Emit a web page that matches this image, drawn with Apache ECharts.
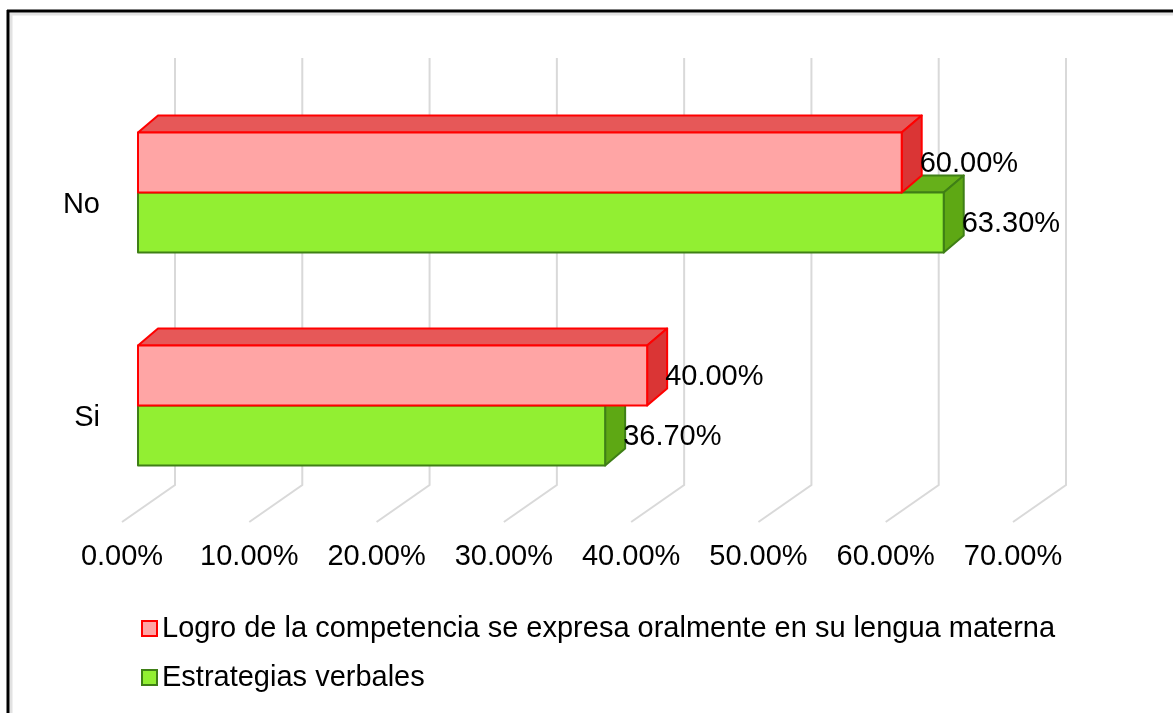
<!DOCTYPE html>
<html>
<head>
<meta charset="utf-8">
<title>Logro de la competencia</title>
<script src="https://cdn.jsdelivr.net/npm/echarts@6/dist/echarts.min.js"></script>
<style>
  html, body { margin: 0; padding: 0; background: #fff; }
  #chart { width: 1173px; height: 713px; }
</style>
</head>
<body>
<div id="chart"></div>
<script>
var categories = ['No', 'Si'];
var logroValues = [60.0, 40.0];
var estrategiasValues = [63.3, 36.7];
var tickValues = [0, 10, 20, 30, 40, 50, 60, 70];
var seriesNames = ['Logro de la competencia se expresa oralmente en su lengua materna', 'Estrategias verbales'];

var FONT = '"Liberation Sans", Arial, sans-serif';
var FS = 29;
var FRONT_DX = 16;
var BAR_H = 60;
var DEPTH = [20, -17];

var red = { front: '#FFA5A5', border: '#FF0000', top: '#E65858', side: '#DA3535' };
var green = { front: '#92EF32', border: '#3F7F16', top: '#66B01A', side: '#5EA814' };

function barRender(c, upper) {
  return function (params, api) {
    var v = api.value(0), cat = api.value(1);
    var start = api.coord([0, cat]);
    var end = api.coord([v, cat]);
    var x0 = start[0] + FRONT_DX, x1 = end[0] + FRONT_DX;
    var y0 = upper ? end[1] - BAR_H : end[1];
    var y1 = y0 + BAR_H;
    var dx = DEPTH[0], dy = DEPTH[1];
    var line = { stroke: c.border, lineWidth: 2, lineJoin: 'round' };
    return {
      type: 'group',
      children: [
        {
          type: 'polygon',
          shape: { points: [[x0, y0], [x0 + dx, y0 + dy], [x1 + dx, y0 + dy], [x1, y0]] },
          style: Object.assign({ fill: c.top }, line)
        },
        {
          type: 'polygon',
          shape: { points: [[x1, y0], [x1 + dx, y0 + dy], [x1 + dx, y1 + dy], [x1, y1]] },
          style: Object.assign({ fill: c.side }, line)
        },
        {
          type: 'rect',
          shape: { x: x0, y: y0, width: x1 - x0, height: y1 - y0 },
          style: Object.assign({ fill: c.front }, line)
        },
        {
          type: 'text',
          x: x1 + 18,
          y: (y0 + y1) / 2 + 1,
          style: {
            text: v.toFixed(2) + '%',
            fill: '#000',
            font: FS + 'px ' + FONT,
            verticalAlign: 'middle',
            align: 'left'
          }
        }
      ]
    };
  };
}

function wallRender(params, api) {
  var p = api.coord([api.value(0), 0]);
  var cs = params.coordSys;
  var bottom = cs.y + cs.height;
  return {
    type: 'polyline',
    shape: { points: [[p[0] + 53, cs.y - 28], [p[0] + 53, bottom - 27], [p[0], bottom + 10]] },
    style: { stroke: '#D9D9D9', lineWidth: 2, fill: 'none' }
  };
}

var dom = document.getElementById('chart');
var myChart = echarts.init(dom);
var option = {
  animation: false,
  backgroundColor: '#fff',
  textStyle: { fontFamily: FONT },
  grid: { left: 122, top: 86, width: 891, height: 426 },
  xAxis: {
    type: 'value',
    min: 0,
    max: 70,
    interval: 10,
    axisLine: { show: false },
    axisTick: { show: false },
    splitLine: { show: false },
    axisLabel: {
      margin: 30,
      fontSize: FS,
      color: '#000',
      fontFamily: FONT,
      formatter: function (v) { return v.toFixed(2) + '%'; }
    }
  },
  yAxis: {
    type: 'category',
    inverse: true,
    data: categories,
    axisLine: { show: false },
    axisTick: { show: false },
    axisLabel: {
      margin: 22,
      fontSize: FS,
      lineHeight: 24,
      color: '#000',
      fontFamily: FONT,
      formatter: function (v) { return '\n' + v; }
    }
  },
  legend: {
    orient: 'vertical',
    left: 136,
    top: 609,
    itemWidth: 15,
    itemHeight: 15,
    itemGap: 20,
    textStyle: { fontSize: FS, color: '#000', fontFamily: FONT },
    data: [
      { name: seriesNames[0], icon: 'rect', itemStyle: { color: red.front, borderColor: red.border, borderWidth: 2 } },
      { name: seriesNames[1], icon: 'rect', itemStyle: { color: green.front, borderColor: green.border, borderWidth: 2 } }
    ]
  },
  graphic: [
    { type: 'line', shape: { x1: 10, y1: 14, x2: 1173, y2: 14 }, style: { stroke: '#E2E2E2', lineWidth: 3 } },
    { type: 'line', shape: { x1: 11, y1: 14, x2: 11, y2: 713 }, style: { stroke: '#E2E2E2', lineWidth: 3 } },
    { type: 'line', shape: { x1: 7, y1: 11, x2: 1173, y2: 11 }, style: { stroke: '#000', lineWidth: 3 } },
    { type: 'line', shape: { x1: 8, y1: 10, x2: 8, y2: 713 }, style: { stroke: '#000', lineWidth: 3 } }
  ],
  series: [
    {
      type: 'custom',
      silent: true,
      renderItem: wallRender,
      data: tickValues.map(function (v) { return [v, 0]; })
    },
    {
      name: seriesNames[1],
      type: 'custom',
      renderItem: barRender(green, false),
      itemStyle: { color: green.front, borderColor: green.border },
      encode: { x: 0, y: 1 },
      data: estrategiasValues.map(function (v, i) { return [v, i]; })
    },
    {
      name: seriesNames[0],
      type: 'custom',
      renderItem: barRender(red, true),
      itemStyle: { color: red.front, borderColor: red.border },
      encode: { x: 0, y: 1 },
      data: logroValues.map(function (v, i) { return [v, i]; })
    }
  ]
};
if (option && typeof option === 'object') {
  myChart.setOption(option, true);
}
</script>
</body>
</html>
